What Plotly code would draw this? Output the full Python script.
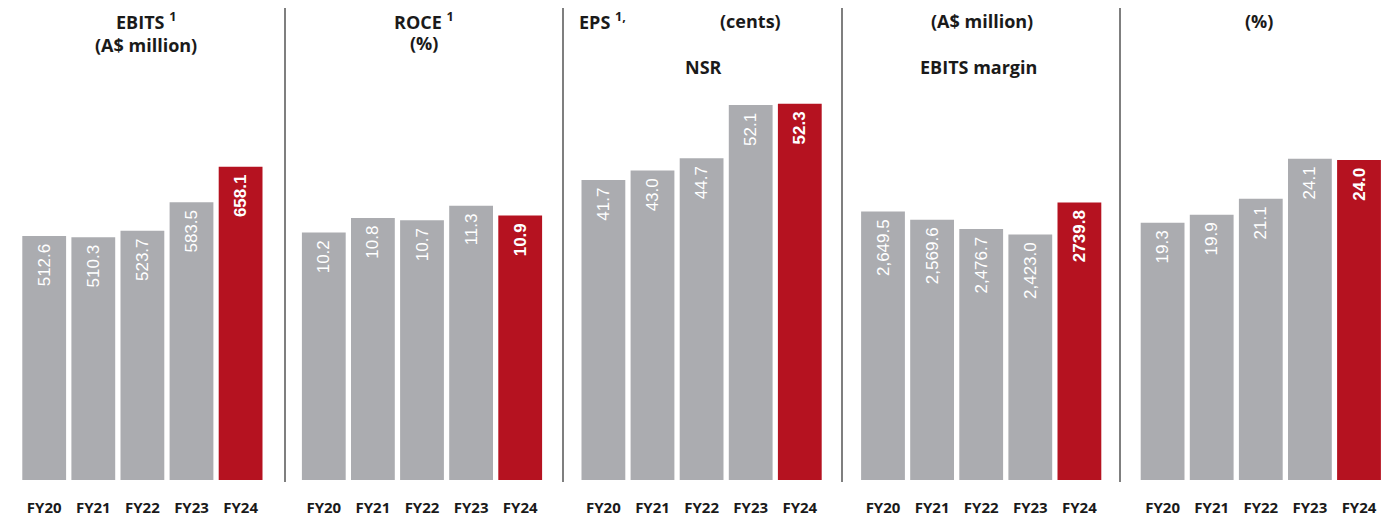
import plotly.graph_objects as go

# ---- data ----
years = ["FY20", "FY21", "FY22", "FY23", "FY24"]

ebits = [512.6, 510.3, 523.7, 583.5, 658.1]
ebits_labels = ["512.6", "510.3", "523.7", "583.5", "658.1"]

roce = [10.2, 10.8, 10.7, 11.3, 10.9]
roce_labels = ["10.2", "10.8", "10.7", "11.3", "10.9"]

eps = [41.7, 43.0, 44.7, 52.1, 52.3]
eps_labels = ["41.7", "43.0", "44.7", "52.1", "52.3"]

nsr = [2649.5, 2569.6, 2476.7, 2423.0, 2739.8]
nsr_labels = ["2,649.5", "2,569.6", "2,476.7", "2,423.0", "2739.8"]

ebits_margin = [19.3, 19.9, 21.1, 24.1, 24.0]
ebits_margin_labels = ["19.3", "19.9", "21.1", "24.1", "24.0"]

series = [ebits, roce, eps, nsr, ebits_margin]
series_labels = [ebits_labels, roce_labels, eps_labels, nsr_labels, ebits_margin_labels]

# ---- styling / layout ----
W, H = 1395, 520
PLOT_BOTTOM = 480
GREY = "#ABACB0"
RED = "#B51220"
y_max = [1008.6, 19.78, 66.7, 4738.0, 36.0]
panel_left0 = 19.65
panel_pitch = 279.6
panel_width = 245.5
TITLE_FONT = "Open Sans"

fig = go.Figure()
for i, (vals, labs) in enumerate(zip(series, series_labels)):
    colors = [GREY] * (len(vals) - 1) + [RED]
    texts = [f"{l}\u00a0" for l in labs[:-1]] + [f"<b>{labs[-1]}</b>\u00a0"]
    sfx = "" if i == 0 else str(i + 1)
    fig.add_trace(go.Bar(
        x=years, y=vals, marker=dict(color=colors, line=dict(width=0)),
        text=texts, textposition="inside", insidetextanchor="end",
        textangle=-90,
        textfont=dict(family="Liberation Sans, Arial", size=17, color="white"),
        xaxis="x" + sfx, yaxis="y" + sfx, hoverinfo="skip", showlegend=False,
    ))
    left = panel_left0 + panel_pitch * i
    fig.layout["xaxis" + sfx] = dict(
        domain=[left / W, (left + panel_width) / W], anchor="y" + sfx,
        showgrid=False, zeroline=False, showline=False, ticks="",
        ticklabelstandoff=17, automargin=False, fixedrange=True,
        tickfont=dict(family=TITLE_FONT, size=15, color="#1a1a1a", weight="bold"),
    )
    fig.layout["yaxis" + sfx] = dict(
        domain=[0, 1], anchor="x" + sfx, range=[0, y_max[i]],
        visible=False, fixedrange=True,
    )

def py(p):
    return (PLOT_BOTTOM - p) / PLOT_BOTTOM

titles = [
    ("EBITS <sup>1</sup>", 146, 21, "center"),
    ("(A$ million)", 146, 45, "center"),
    ("ROCE <sup>1</sup>", 424, 21, "center"),
    ("(%)", 424, 43, "center"),
    ("EPS <sup>1,</sup>", 577, 21, "left"),
    ("(cents)", 750, 21, "center"),
    ("NSR", 703, 67, "center"),
    ("(A$ million)", 982, 21, "center"),
    ("EBITS margin", 978, 67, "center"),
    ("(%)", 1259, 21, "center"),
]
for txt, x, y, anc in titles:
    fig.add_annotation(
        text=txt, x=x / W, y=py(y), xref="paper", yref="paper",
        xanchor=anc, yanchor="middle", showarrow=False,
        font=dict(family=TITLE_FONT, size=18, color="#1a1a1a", weight="bold"),
    )

for sx in [285, 563, 842, 1120]:
    fig.add_shape(type="line", xref="paper", yref="paper",
                  x0=sx / W, x1=sx / W, y0=py(8), y1=py(482),
                  line=dict(color="#555555", width=1.5))

fig.update_layout(
    width=W, height=H, margin=dict(l=0, r=0, t=0, b=H - PLOT_BOTTOM),
    paper_bgcolor="white", plot_bgcolor="white",
    bargap=0.108, showlegend=False,
)

fig.write_html("out.html")
